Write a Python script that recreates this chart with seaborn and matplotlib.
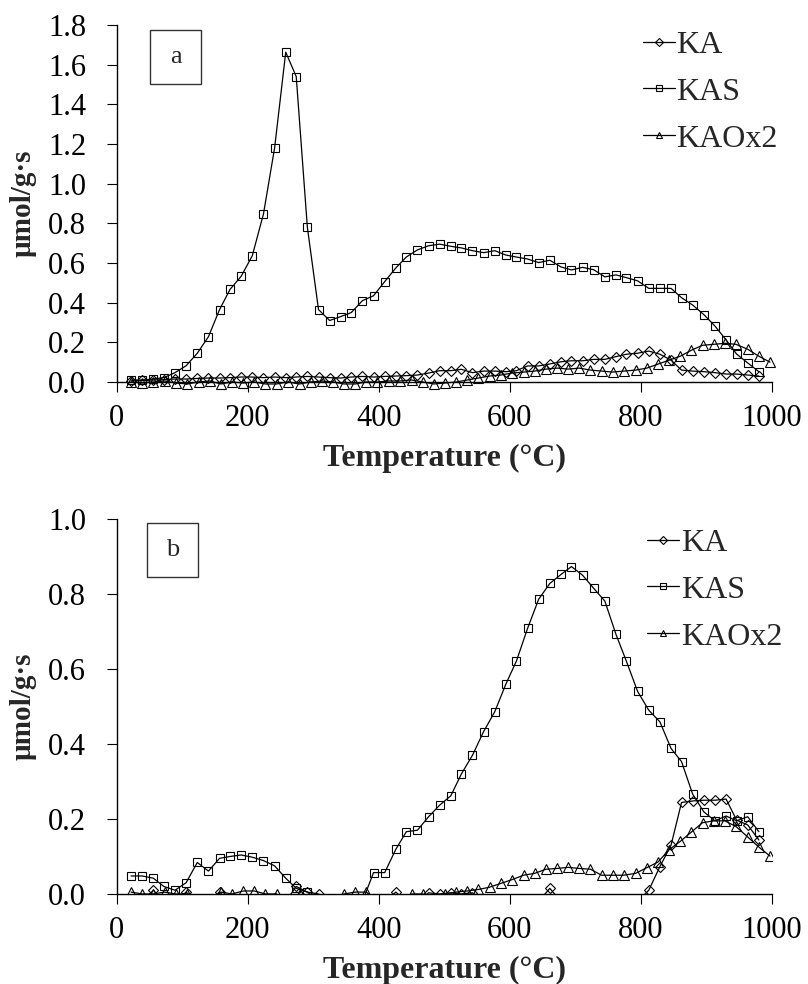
import numpy as np
import pandas as pd
import matplotlib
matplotlib.use('Agg')
import matplotlib.pyplot as plt
import seaborn as sns
from matplotlib.patches import Rectangle

sns.set_style('white')
plt.rcParams['font.family'] = ['Liberation Serif', 'DejaVu Serif']

# temperatures (°C) for KA and KAS
temp = [22, 39, 56, 72, 89, 106, 123, 140, 157, 173, 190, 207, 224, 241, 258,
        274, 291, 308, 325, 342, 358, 375, 392, 409, 426, 442, 459, 476, 493,
        510, 526, 543, 560, 577, 594, 610, 627, 644, 661, 678, 694, 711, 728,
        745, 762, 778, 795, 812, 829, 846, 862, 879, 896, 913, 930, 946, 963, 980]
# temperatures (°C) for KAOx2
temp_ox = [22, 39, 56, 73, 90, 108, 125, 142, 159, 176, 193, 210, 227, 244, 261,
           279, 296, 313, 330, 347, 364, 381, 398, 415, 432, 450, 467, 484, 501,
           518, 535, 552, 569, 586, 603, 621, 638, 655, 672, 689, 706, 723, 740,
           757, 774, 792, 809, 826, 843, 860, 877, 894, 911, 928, 945, 963, 980, 997]

# panel a
a_ka = [0.005, 0.008, 0.01, 0.012, 0.015, 0.015, 0.018, 0.02, 0.02, 0.022, 0.025,
        0.025, 0.022, 0.025, 0.022, 0.025, 0.028, 0.025, 0.022, 0.02, 0.025, 0.028,
        0.025, 0.028, 0.03, 0.032, 0.035, 0.045, 0.057, 0.057, 0.064, 0.047, 0.055,
        0.055, 0.052, 0.057, 0.081, 0.081, 0.091, 0.102, 0.107, 0.107, 0.114, 0.114,
        0.128, 0.14, 0.145, 0.156, 0.14, 0.11, 0.06, 0.055, 0.052, 0.047, 0.04,
        0.04, 0.035, 0.03]
a_kas = [0.01, 0.01, 0.015, 0.022, 0.047, 0.082, 0.145, 0.228, 0.365, 0.467, 0.533,
         0.637, 0.847, 1.18, 1.663, 1.54, 0.78, 0.365, 0.31, 0.33, 0.35, 0.41, 0.435,
         0.506, 0.575, 0.63, 0.666, 0.687, 0.695, 0.684, 0.676, 0.662, 0.652, 0.662,
         0.64, 0.63, 0.62, 0.602, 0.614, 0.58, 0.565, 0.578, 0.566, 0.53, 0.54,
         0.526, 0.51, 0.472, 0.472, 0.472, 0.425, 0.388, 0.34, 0.282, 0.212, 0.141,
         0.096, 0.052]
a_kaox2 = [0.0, -0.005, 0.0, 0.005, -0.005, -0.01, 0.0, 0.005, -0.01, 0.0, -0.005,
           0.0, -0.01, -0.01, 0.0, -0.01, 0.0, 0.005, 0.0, -0.01, -0.01, 0.0, 0.0,
           0.005, 0.005, 0.01, 0.0, -0.01, -0.005, 0.0, 0.01, 0.02, 0.03, 0.035,
           0.045, 0.05, 0.055, 0.065, 0.07, 0.065, 0.07, 0.06, 0.055, 0.05, 0.055,
           0.06, 0.07, 0.09, 0.11, 0.13, 0.16, 0.185, 0.19, 0.195, 0.19, 0.165,
           0.13, 0.1]

# panel b
b_ka = [-0.02, -0.02, 0.01, -0.02, -0.02, 0.005, -0.02, -0.02, 0.005, -0.02, -0.02,
        -0.02, -0.02, -0.02, -0.02, 0.02, 0.005, 0.0, -0.02, -0.02, -0.02, -0.02,
        -0.02, -0.02, 0.005, -0.02, -0.02, 0.003, 0.0, 0.003, 0.0, 0.003, -0.02,
        -0.02, -0.02, -0.02, -0.02, -0.02, 0.015, -0.02, -0.02, -0.02, -0.02, -0.02,
        -0.02, -0.02, -0.02, 0.01, 0.073, 0.13, 0.244, 0.248, 0.25, 0.25, 0.253,
        0.197, 0.184, 0.144]
b_kas = [0.048, 0.048, 0.042, 0.02, 0.01, 0.03, 0.084, 0.061, 0.095, 0.1, 0.104,
         0.098, 0.089, 0.075, 0.042, 0.015, 0.005, -0.02, -0.02, -0.02, -0.02, -0.02,
         0.057, 0.057, 0.119, 0.166, 0.17, 0.206, 0.237, 0.262, 0.32, 0.37, 0.433,
         0.486, 0.56, 0.621, 0.708, 0.786, 0.828, 0.852, 0.873, 0.85, 0.815, 0.781,
         0.692, 0.62, 0.54, 0.49, 0.459, 0.388, 0.353, 0.266, 0.219, 0.195, 0.208,
         0.195, 0.206, 0.166]
b_kaox2 = [0.005, 0.0, 0.0, 0.005, 0.0, 0.0, -0.02, -0.02, 0.005, 0.0, 0.008, 0.008,
           0.0, 0.0, -0.02, 0.0, -0.02, -0.02, -0.02, 0.0, 0.005, 0.005, -0.02,
           -0.02, -0.02, 0.0, 0.0, -0.01, 0.0, 0.005, 0.008, 0.012, 0.018, 0.028,
           0.038, 0.05, 0.055, 0.066, 0.068, 0.071, 0.068, 0.066, 0.05, 0.05, 0.05,
           0.055, 0.07, 0.085, 0.118, 0.14, 0.165, 0.19, 0.195, 0.195, 0.18, 0.152,
           0.125, 0.101]

fig = plt.figure(figsize=(8.08, 9.84), dpi=100)
ax_a = fig.add_axes([0.1444, 0.6118, 0.811, 0.3628])
ax_b = fig.add_axes([0.1444, 0.0915, 0.811, 0.3811])


def draw(ax, x, y, marker, ms, label, clip):
    sns.lineplot(x=x, y=y, ax=ax, color='black', lw=0.9, marker=marker, ms=ms,
                 mfc='none', mec='black', mew=0.8, label=label, clip_on=clip)


for ax, ka, kas, ox, clip in [(ax_a, a_ka, a_kas, a_kaox2, False),
                              (ax_b, b_ka, b_kas, b_kaox2, True)]:
    draw(ax, temp, ka, 'D', 5.5, 'KA', clip)
    draw(ax, temp, kas, 's', 6, 'KAS', clip)
    draw(ax, temp_ox, ox, '^', 7, 'KAOx2', clip)
    ax.set_xlim(0, 1000)
    ax.set_xticks([0, 200, 400, 600, 800, 1000])
    sns.despine(ax=ax)
    for s in ['left', 'bottom']:
        ax.spines[s].set_color('black')
        ax.spines[s].set_linewidth(1.0)
    ax.tick_params(direction='out', length=7, width=0.8, labelsize=22,
                   left=True, bottom=True, colors='black')
    ax.tick_params(axis='y', pad=15)
    ax.tick_params(axis='x', pad=9)
    ax.set_xlabel('Temperature (°C)', fontsize=23, fontweight='bold', labelpad=8)
    ax.set_ylabel('µmol/g·s', fontsize=21, fontweight='bold')
    ax.yaxis.set_label_coords(-0.122, 0.5)

ax_a.set_ylim(0, 1.8)
ax_a.set_yticks(np.arange(0, 1.81, 0.2))
ax_a.set_yticklabels([f'{v:.1f}' for v in np.arange(0, 1.81, 0.2)])
ax_b.set_ylim(0, 1.0)
ax_b.set_yticks(np.arange(0, 1.01, 0.2))
ax_b.set_yticklabels([f'{v:.1f}' for v in np.arange(0, 1.01, 0.2)])

for ax, anchor in [(ax_a, (0.803, 0.985)), (ax_b, (0.81, 0.975))]:
    leg = ax.legend(loc='upper left', bbox_to_anchor=anchor, frameon=False,
                    fontsize=23, handlelength=1.0, handletextpad=0.05,
                    labelspacing=0.55, borderpad=0, borderaxespad=0)
    for h in leg.legend_handles:
        h.set_markersize(4.5)

# panel letters in boxes
for (x0, y0), letter in [((0.1856, 0.9146), 'a'), ((0.1819, 0.4136), 'b')]:
    fig.add_artist(Rectangle((x0, y0), 0.0631, 0.0549, transform=fig.transFigure,
                             fill=False, lw=1.0, ec='#333333'))
    fig.text(x0 + 0.0316, y0 + 0.0274, letter, ha='center', va='center', fontsize=19)

plt.savefig('out.png', dpi=100)
